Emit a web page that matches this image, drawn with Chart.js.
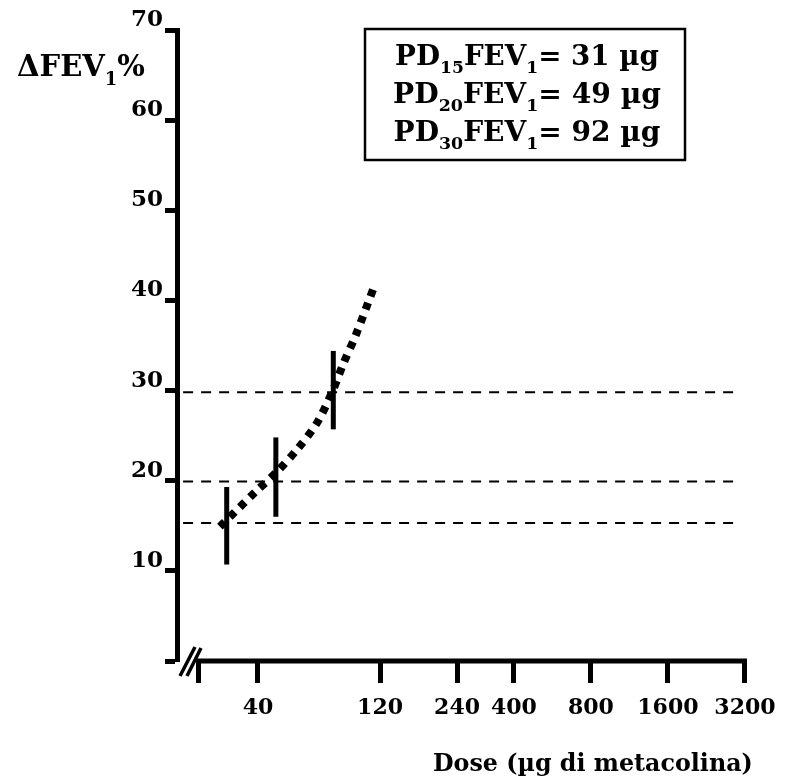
<!DOCTYPE html>
<html>
<head>
<meta charset="utf-8">
<script src="https://cdn.jsdelivr.net/npm/chart.js@4"></script>
<style>
html, body { margin: 0; padding: 0; background: #fff; }
#wrap { width: 799px; height: 783px; position: relative; }
</style>
</head>
<body>
<div id="wrap"><canvas id="chart"></canvas></div>
<script>
// x axis: dose in µg (log), first tick is the unlabeled start after the axis break
const doseTicks = [23.4, 40, 120, 240, 400, 800, 1600, 3200];
const doseLabels = ["", "40", "120", "240", "400", "800", "1600", "3200"];
// y axis: ΔFEV1 %
const fevTicks = [0, 10, 20, 30, 40, 50, 60, 70];
const fevLabels = ["", "10", "20", "30", "40", "50", "60", "70"];

// dotted dose-response curve
const curveDose = [28.4, 38.9, 47.5, 57.4, 68.0, 77.9, 86.0, 96.6, 114.7];
const curveFev = [14.9, 18.7, 21.0, 23.6, 26.4, 29.8, 32.9, 36.2, 41.8];

// vertical bars at PD15, PD20, PD30
const barDose = [30.2, 47.0, 78.8];
const barLow = [10.7, 16.0, 25.7];
const barHigh = [19.3, 24.8, 34.4];

// dashed threshold lines
const thresholds = [15.3, 19.9, 29.8];
const thresholdFrom = 20.4;
const thresholdTo = 2951;

// box text
const boxLines = [
    [["PD"], ["15", true], ["FEV"], ["1", true], ["= 31 µg"]],
    [["PD"], ["20", true], ["FEV"], ["1", true], ["= 49 µg"]],
    [["PD"], ["30", true], ["FEV"], ["1", true], ["= 92 µg"]],
];
const yTitle = [["ΔFEV"], ["1", true], ["%"]];
const xTitle = [["Dose (µg di metacolina)"]];

const FAMILY = "'DejaVu Serif', serif";

function segFont(size, sub) {
    return "bold " + (sub ? size * 0.62 : size) + "px " + FAMILY;
}

function richWidth(ctx, segs, size) {
    let w = 0;
    segs.forEach((s) => {
        ctx.font = segFont(size, s[1]);
        w += ctx.measureText(s[0]).width;
    });
    return w;
}

// draws text with subscripts, font size chosen so the run is targetW wide
function drawRich(ctx, segs, x, baseline, targetW, align) {
    let size = 20 * targetW / richWidth(ctx, segs, 20);
    let w = richWidth(ctx, segs, size);
    let cx = x;
    if (align === "center") cx = x - w / 2;
    if (align === "right") cx = x - w;
    ctx.textAlign = "left";
    ctx.textBaseline = "alphabetic";
    ctx.fillStyle = "#000";
    segs.forEach((s) => {
        ctx.font = segFont(size, s[1]);
        ctx.fillText(s[0], cx, baseline + (s[1] ? size * 0.3 : 0));
        cx += ctx.measureText(s[0]).width;
    });
}

const decor = {
    id: "decor",
    afterDraw(chart) {
        const ctx = chart.ctx;
        const xs = chart.scales.x;
        const area = chart.chartArea;
        ctx.save();
        ctx.strokeStyle = "#000";
        ctx.lineCap = "butt";

        // x axis line after the break
        ctx.lineWidth = 5;
        ctx.beginPath();
        ctx.moveTo(xs.getPixelForValue(doseTicks[0]) - 2, area.bottom);
        ctx.lineTo(xs.getPixelForValue(doseTicks[doseTicks.length - 1]) + 2, area.bottom);
        ctx.stroke();

        // axis break marks
        ctx.lineWidth = 3.5;
        ctx.beginPath();
        ctx.moveTo(area.left + 3, area.bottom + 15);
        ctx.lineTo(area.left + 18, area.bottom - 14);
        ctx.moveTo(area.left + 10, area.bottom + 15);
        ctx.lineTo(area.left + 24, area.bottom - 13);
        ctx.stroke();

        // result box
        ctx.lineWidth = 2.5;
        ctx.strokeRect(365, 29, 320, 131);
        drawRich(ctx, boxLines[0], 527, 65, 264, "center");
        drawRich(ctx, boxLines[1], 527, 103, 268, "center");
        drawRich(ctx, boxLines[2], 527, 141, 267, "center");

        // axis titles
        drawRich(ctx, yTitle, 17, 76, 128, "left");
        drawRich(ctx, xTitle, 433, 771, 320, "left");
        ctx.restore();
    },
};

const datasets = [{
    data: curveDose.map((d, i) => ({ x: d, y: curveFev[i] })),
    borderColor: "#000",
    borderWidth: 8,
    borderDash: [7, 7],
    borderCapStyle: "butt",
    pointRadius: 0,
    tension: 0.3,
}];

barDose.forEach((d, i) => {
    datasets.push({
        data: [{ x: d, y: barLow[i] }, { x: d, y: barHigh[i] }],
        borderColor: "#000",
        borderWidth: 5,
        borderCapStyle: "butt",
        pointRadius: 0,
    });
});

thresholds.forEach((t) => {
    datasets.push({
        data: [{ x: thresholdFrom, y: t }, { x: thresholdTo, y: t }],
        borderColor: "#000",
        borderWidth: 2,
        borderDash: [10, 8],
        pointRadius: 0,
    });
});

new Chart(document.getElementById("chart"), {
    type: "line",
    data: { datasets: datasets },
    plugins: [decor],
    options: {
        responsive: true,
        maintainAspectRatio: false,
        animation: false,
        layout: { padding: { left: 0, right: 34, top: 30, bottom: 0 } },
        plugins: { legend: { display: false }, tooltip: { enabled: false } },
        scales: {
            x: {
                type: "logarithmic",
                min: 19.31,
                max: 3832,
                afterBuildTicks: (scale) => {
                    scale.ticks = doseTicks.map((v) => ({ value: v }));
                },
                afterFit: (scale) => {
                    scale.height = 122;
                },
                border: { display: false },
                grid: {
                    drawOnChartArea: false,
                    color: "#000",
                    tickLength: 22,
                    tickWidth: 5,
                    tickColor: "#000",
                },
                ticks: {
                    autoSkip: false,
                    maxRotation: 0,
                    padding: 12,
                    color: "#000",
                    font: { family: FAMILY, weight: "bold", size: 22 },
                    callback: (v) => {
                        let i = doseTicks.indexOf(v);
                        return i >= 0 ? doseLabels[i] : "";
                    },
                },
            },
            y: {
                type: "linear",
                min: 0,
                max: 70,
                afterBuildTicks: (scale) => {
                    scale.ticks = fevTicks.map((v) => ({ value: v }));
                },
                afterFit: (scale) => {
                    scale.width = 177;
                },
                border: { display: true, color: "#000", width: 5 },
                grid: {
                    drawOnChartArea: false,
                    color: "#000",
                    tickLength: 12,
                    tickWidth: 5,
                    tickColor: "#000",
                },
                ticks: {
                    padding: 2,
                    labelOffset: -10,
                    color: "#000",
                    font: { family: FAMILY, weight: "bold", size: 23 },
                    callback: (v) => {
                        let i = fevTicks.indexOf(v);
                        return i >= 0 ? fevLabels[i] : "";
                    },
                },
            },
        },
    },
});
</script>
</body>
</html>
